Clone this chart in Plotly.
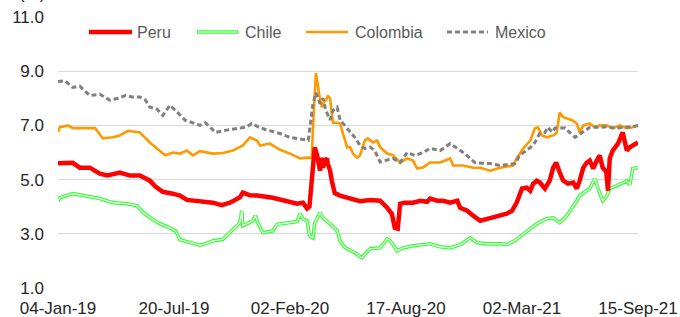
import plotly.graph_objects as go

# ---------------- data ----------------
peru_dates = [
    "2019-01-04","2019-01-19","2019-01-29","2019-02-10","2019-02-27","2019-03-16","2019-03-29","2019-04-19","2019-05-06","2019-05-23",
    "2019-06-09","2019-06-18","2019-07-01","2019-07-18","2019-07-30","2019-08-11","2019-08-28","2019-09-14","2019-09-24","2019-10-09",
    "2019-10-23","2019-11-09","2019-11-14","2019-11-26","2019-12-08","2020-01-04","2020-01-28","2020-02-14","2020-02-24","2020-03-02",
    "2020-03-06","2020-03-10","2020-03-15","2020-03-19","2020-03-21","2020-03-24","2020-03-27","2020-03-29","2020-04-01","2020-04-05",
    "2020-04-06","2020-04-10","2020-04-13","2020-04-18","2020-04-27","2020-05-14","2020-05-31","2020-06-17","2020-07-04","2020-07-16",
    "2020-07-24","2020-07-29","2020-08-03","2020-08-07","2020-08-15","2020-08-29","2020-09-10","2020-09-22","2020-09-27","2020-10-09",
    "2020-10-19","2020-10-31","2020-11-12","2020-11-17","2020-11-29","2020-12-09","2020-12-21","2021-01-02","2021-01-12","2021-01-24",
    "2021-02-04","2021-02-13","2021-02-21","2021-03-02","2021-03-10","2021-03-16","2021-03-21","2021-03-27","2021-04-01","2021-04-10",
    "2021-04-18","2021-04-24","2021-04-29","2021-05-05","2021-05-11","2021-05-19","2021-05-28","2021-06-03","2021-06-08","2021-06-14",
    "2021-06-20","2021-06-25","2021-07-01","2021-07-07","2021-07-12","2021-07-17","2021-07-23","2021-07-26","2021-07-29","2021-08-03",
    "2021-08-12","2021-08-20","2021-08-27","2021-09-01","2021-09-06","2021-09-15",
]
peru_values = [
    5.60, 5.59, 5.62, 5.44, 5.44, 5.22, 5.15, 5.26, 5.15, 5.15,
    4.96, 4.75, 4.55, 4.48, 4.41, 4.25, 4.22, 4.15, 4.15, 4.06,
    4.15, 4.35, 4.52, 4.42, 4.41, 4.33, 4.22, 4.11, 4.15, 3.93,
    4.00, 4.96, 6.19, 5.90, 5.70, 5.33, 5.81, 5.44, 5.70, 5.78,
    5.60, 5.33, 4.96, 4.50, 4.41, 4.30, 4.20, 4.25, 4.22, 3.96,
    3.74, 3.22, 3.19, 4.11, 4.15, 4.15, 4.22, 4.18, 4.30, 4.22,
    4.22, 4.15, 4.22, 3.96, 3.85, 3.67, 3.48, 3.55, 3.62, 3.67,
    3.74, 3.85, 4.15, 4.67, 4.70, 4.59, 4.85, 4.96, 4.90, 4.67,
    4.96, 5.44, 5.63, 5.26, 4.96, 4.85, 4.89, 4.67, 4.96, 5.44,
    5.63, 5.70, 5.41, 5.70, 5.89, 5.44, 5.30, 4.59, 5.78, 6.07,
    6.33, 6.74, 6.07, 6.19, 6.26, 6.37,
]

chile_dates = [
    "2019-01-04","2019-01-07","2019-01-29","2019-02-15","2019-03-16","2019-04-07","2019-05-01","2019-05-18","2019-05-28","2019-06-09",
    "2019-06-26","2019-07-13","2019-07-23","2019-07-30","2019-08-16","2019-09-02","2019-09-11","2019-09-24","2019-10-11","2019-10-23",
    "2019-11-04","2019-11-09","2019-11-12","2019-11-14","2019-11-21","2019-12-01","2019-12-05","2019-12-10","2019-12-18","2020-01-04",
    "2020-01-11","2020-01-28","2020-02-14","2020-02-19","2020-02-24","2020-03-02","2020-03-06","2020-03-12","2020-03-15","2020-03-24",
    "2020-03-29","2020-04-10","2020-04-22","2020-04-27","2020-05-05","2020-05-22","2020-06-03","2020-06-17","2020-07-04","2020-07-16",
    "2020-07-21","2020-08-02","2020-08-12","2020-08-29","2020-09-27","2020-10-14","2020-10-31","2020-11-17","2020-12-04","2020-12-16",
    "2021-01-02","2021-01-24","2021-02-04","2021-02-18","2021-03-02","2021-03-16","2021-03-27","2021-04-13","2021-04-24","2021-05-05",
    "2021-05-17","2021-06-03","2021-06-08","2021-06-25","2021-07-04","2021-07-09","2021-07-17","2021-07-24","2021-07-29","2021-08-10",
    "2021-08-20","2021-08-27","2021-09-01","2021-09-06","2021-09-15",
]
chile_values = [
    4.22, 4.33, 4.48, 4.41, 4.30, 4.15, 4.11, 4.04, 3.80, 3.60,
    3.37, 3.22, 3.10, 2.78, 2.67, 2.58, 2.63, 2.74, 2.80, 3.04,
    3.30, 3.41, 3.85, 3.30, 3.37, 3.48, 3.67, 3.37, 3.04, 3.11,
    3.35, 3.41, 3.45, 3.74, 3.55, 3.48, 2.93, 2.85, 3.40, 3.78,
    3.59, 3.37, 3.11, 2.74, 2.50, 2.30, 2.12, 2.45, 2.48, 2.81,
    2.75, 2.37, 2.48, 2.56, 2.63, 2.52, 2.48, 2.60, 2.85, 2.67,
    2.63, 2.63, 2.60, 2.75, 2.95, 3.19, 3.37, 3.56, 3.59, 3.41,
    3.67, 4.22, 4.41, 4.67, 5.04, 4.67, 4.22, 4.40, 4.67, 4.78,
    4.89, 4.95, 4.80, 5.41, 5.44,
]

colombia_dates = [
    "2019-01-04","2019-01-07","2019-01-21","2019-01-29","2019-02-22","2019-03-08","2019-03-21","2019-04-07","2019-04-19","2019-05-03",
    "2019-05-23","2019-06-09","2019-06-21","2019-07-05","2019-07-18","2019-07-30","2019-08-11","2019-08-21","2019-09-02","2019-09-24",
    "2019-10-11","2019-10-28","2019-11-14","2019-11-26","2019-12-08","2019-12-13","2019-12-30","2020-01-16","2020-02-02","2020-02-19",
    "2020-03-02","2020-03-10","2020-03-12","2020-03-17","2020-03-21","2020-03-22","2020-03-27","2020-03-29","2020-04-05","2020-04-06",
    "2020-04-10","2020-04-13","2020-04-15","2020-04-22","2020-04-27","2020-05-02","2020-05-09","2020-05-14","2020-05-19","2020-05-26",
    "2020-05-31","2020-06-08","2020-06-13","2020-06-22","2020-06-29","2020-07-04","2020-07-16","2020-07-26","2020-08-07","2020-08-19",
    "2020-08-29","2020-09-05","2020-09-15","2020-09-27","2020-10-14","2020-10-31","2020-11-05","2020-11-22","2020-12-09","2020-12-21",
    "2021-01-07","2021-01-24","2021-02-10","2021-02-15","2021-02-21","2021-02-26","2021-03-04","2021-03-16","2021-03-24","2021-03-29",
    "2021-04-05","2021-04-13","2021-04-24","2021-04-30","2021-05-05","2021-05-11","2021-05-17","2021-05-26","2021-06-03","2021-06-08",
    "2021-06-14","2021-06-25","2021-07-04","2021-07-12","2021-07-24","2021-08-03","2021-08-15","2021-08-27","2021-09-06","2021-09-15",
]
colombia_values = [
    6.75, 6.93, 7.00, 6.90, 6.90, 6.90, 6.52, 6.56, 6.63, 6.80,
    6.74, 6.37, 6.15, 5.90, 6.00, 5.96, 6.07, 5.89, 6.05, 5.96,
    5.98, 6.07, 6.26, 6.56, 6.44, 6.26, 6.33, 6.10, 5.96, 5.78,
    5.81, 5.80, 6.93, 8.93, 8.40, 8.20, 7.67, 7.80, 8.00, 8.10,
    8.00, 7.55, 7.10, 7.10, 7.07, 6.70, 6.19, 6.20, 5.96, 5.81,
    5.90, 6.44, 6.52, 6.37, 6.44, 6.19, 5.96, 5.90, 5.63, 5.78,
    5.70, 5.41, 5.45, 5.63, 5.63, 5.78, 5.52, 5.52, 5.44, 5.44,
    5.33, 5.44, 5.52, 5.52, 5.78, 5.96, 6.15, 6.44, 6.89, 6.93,
    6.63, 6.56, 6.63, 6.74, 7.48, 7.30, 7.26, 7.19, 7.07, 6.74,
    7.00, 7.07, 6.93, 7.00, 7.00, 6.89, 7.00, 6.90, 6.93, 7.00,
]

mexico_dates = [
    "2019-01-04","2019-01-16","2019-01-29","2019-02-10","2019-02-27","2019-03-16","2019-04-02","2019-04-16","2019-04-28","2019-05-10",
    "2019-05-23","2019-06-01","2019-06-09","2019-06-21","2019-07-01","2019-07-13","2019-07-25","2019-08-08","2019-08-20","2019-09-02",
    "2019-09-11","2019-09-19","2019-09-28","2019-10-09","2019-10-23","2019-11-09","2019-11-21","2019-11-29","2019-12-10","2019-12-22",
    "2019-12-30","2020-01-16","2020-02-02","2020-02-19","2020-03-04","2020-03-12","2020-03-17","2020-03-24","2020-03-29","2020-04-03",
    "2020-04-10","2020-04-15","2020-04-22","2020-04-27","2020-05-05","2020-05-14","2020-05-22","2020-05-31","2020-06-08","2020-06-17",
    "2020-06-25","2020-07-04","2020-07-12","2020-07-26","2020-08-07","2020-08-19","2020-09-01","2020-09-15","2020-09-27","2020-10-14",
    "2020-10-31","2020-11-05","2020-11-17","2020-11-25","2020-12-04","2020-12-12","2020-12-26","2021-01-07","2021-01-24","2021-02-04",
    "2021-02-18","2021-02-26","2021-03-10","2021-03-17","2021-03-24","2021-04-01","2021-04-10","2021-04-15","2021-04-22","2021-04-27",
    "2021-05-14","2021-05-22","2021-05-31","2021-06-05","2021-06-17","2021-06-25","2021-07-12","2021-07-24","2021-08-07","2021-08-24",
    "2021-09-05","2021-09-15",
]
mexico_values = [
    8.62, 8.65, 8.40, 8.45, 8.10, 8.15, 7.93, 8.00, 8.10, 8.05,
    8.05, 7.95, 7.67, 7.60, 7.37, 7.74, 7.50, 7.19, 7.10, 7.00,
    7.10, 6.95, 6.74, 6.80, 6.85, 6.90, 6.95, 7.07, 6.95, 6.85,
    6.80, 6.70, 6.56, 6.50, 6.45, 7.80, 8.20, 7.80, 8.00, 7.55,
    7.20, 7.55, 7.67, 7.20, 7.00, 6.80, 6.56, 6.26, 6.15, 6.20,
    6.07, 5.65, 5.70, 5.78, 5.63, 6.00, 5.89, 6.00, 6.15, 6.07,
    6.33, 6.26, 6.07, 5.96, 5.78, 5.63, 5.60, 5.59, 5.52, 5.55,
    5.59, 5.89, 6.07, 6.20, 6.37, 6.70, 6.74, 6.93, 6.75, 6.90,
    6.90, 6.74, 6.56, 6.63, 6.80, 6.93, 6.93, 6.95, 6.90, 6.93,
    6.95, 7.00,
]

tick_dates = ["2019-01-04", "2019-07-20", "2020-02-02", "2020-08-17", "2021-03-02", "2021-09-15"]
tick_labels = ["04-Jan-19", "20-Jul-19", "02-Feb-20", "17-Aug-20", "02-Mar-21", "15-Sep-21"]
y_ticks = [1, 3, 5, 7, 9, 11]

series_names = ["Peru", "Chile", "Colombia", "Mexico"]

# ---------------- styles ----------------
RED = "#FF0000"
GREEN = "#33FF33"
ORANGE = "#FF9900"
GREY = "#808080"
FONT = "Liberation Sans, Arial, sans-serif"
AXIS_FONT = dict(family=FONT, size=17, color="#262626")

fig = go.Figure()

# Chile: double line (green outer, white core)
fig.add_trace(go.Scatter(x=chile_dates, y=chile_values, mode="lines",
                         line=dict(color=GREEN, width=3.6), showlegend=False, hoverinfo="skip"))
fig.add_trace(go.Scatter(x=chile_dates, y=chile_values, mode="lines",
                         line=dict(color="#ffffff", width=1.2), showlegend=False, name=series_names[1]))
fig.add_trace(go.Scatter(x=colombia_dates, y=colombia_values, mode="lines",
                         line=dict(color=ORANGE, width=2.6), showlegend=False, name=series_names[2]))
fig.add_trace(go.Scatter(x=mexico_dates, y=mexico_values, mode="lines",
                         line=dict(color=GREY, width=3, dash="5px,3px"), showlegend=False, name=series_names[3]))
fig.add_trace(go.Scatter(x=peru_dates, y=peru_values, mode="lines",
                         line=dict(color=RED, width=4.5), showlegend=False, name=series_names[0]))

# ---------------- layout ----------------
W, H = 680, 317
ML, MR, MT, MB = 58, 42, 17, 29
PW, PH = W - ML - MR, H - MT - MB


def px_x(p):
    return (p - ML) / PW


def px_y(p):
    return 1 - (p - MT) / PH


shapes = []
annotations = []
legend_items = [
    # name, line start, line end, text start, colour, style
    (series_names[0], 89, 132, 135, RED, "thick"),
    (series_names[1], 197, 238, 243, GREEN, "double"),
    (series_names[2], 306, 348, 353, ORANGE, "solid"),
    (series_names[3], 447, 488, 493, GREY, "dash"),
]
LEG_Y = 32
for name, x0, x1, xt, col, style in legend_items:
    seg = dict(type="line", xref="paper", yref="paper", x0=px_x(x0), x1=px_x(x1),
               y0=px_y(LEG_Y), y1=px_y(LEG_Y))
    if style == "thick":
        shapes.append(dict(seg, line=dict(color=col, width=4.5)))
    elif style == "double":
        shapes.append(dict(seg, line=dict(color=col, width=3.6)))
        shapes.append(dict(seg, x0=px_x(x0 + 1), x1=px_x(x1 - 1), line=dict(color="#ffffff", width=1.2)))
    elif style == "solid":
        shapes.append(dict(seg, line=dict(color=col, width=2.6)))
    else:
        shapes.append(dict(seg, line=dict(color=col, width=3, dash="5px,3px")))
    annotations.append(dict(text=name, xref="paper", yref="paper", x=px_x(xt), y=px_y(LEG_Y),
                            xanchor="left", yanchor="middle", showarrow=False,
                            font=dict(family=FONT, size=16, color="#595959")))

annotations.append(dict(text="(%)", xref="paper", yref="paper", x=0, y=1, xshift=-11, yshift=12,
                        xanchor="right", yanchor="bottom", showarrow=False,
                        font=AXIS_FONT))

fig.update_layout(
    width=W, height=H,
    margin=dict(l=ML, r=MR, t=MT, b=MB, pad=0),
    paper_bgcolor="white", plot_bgcolor="white",
    showlegend=False, hovermode=False,
    shapes=shapes, annotations=annotations,
    font=AXIS_FONT,
)
fig.update_xaxes(
    type="date", range=["2019-01-04", "2021-09-15"],
    tickmode="array", tickvals=tick_dates, ticktext=tick_labels,
    showgrid=False, zeroline=False, showline=False, ticks="",
    ticklabelstandoff=8, automargin=False,
    tickfont=AXIS_FONT,
)
fig.update_yaxes(
    range=[1, 11], tickmode="array", tickvals=y_ticks,
    tickformat=".1f", showgrid=True, gridcolor="#d9d9d9", gridwidth=1,
    zeroline=False, showline=False, ticks="", ticklabelstandoff=13, automargin=False,
    tickfont=AXIS_FONT,
)

fig.write_html("out.html", config={"displayModeBar": False},
               post_script="document.body.style.margin='0px';")
